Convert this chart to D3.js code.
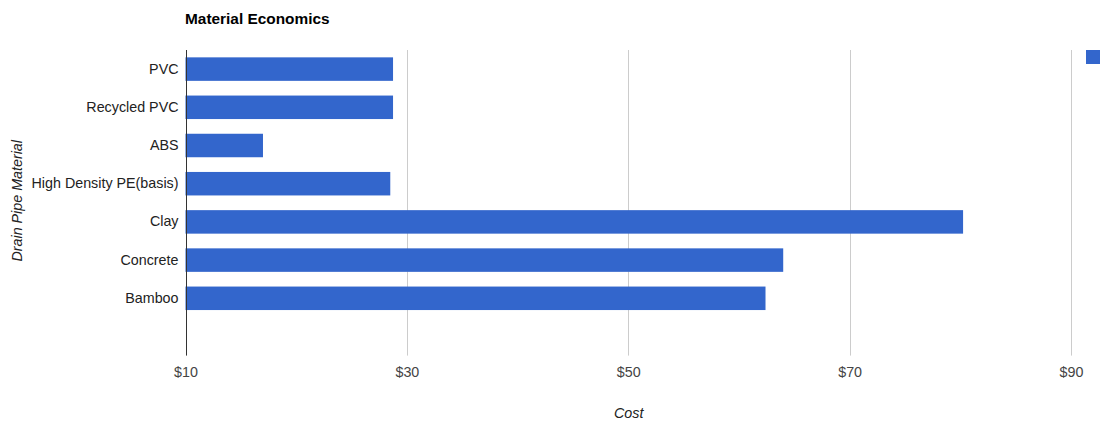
<!DOCTYPE html>
<html>
<head>
<meta charset="utf-8">
<script src="https://cdn.jsdelivr.net/npm/d3@7"></script>
<style>
  html, body { margin: 0; padding: 0; background: #fff; }
  svg { display: block; font-family: "Liberation Sans", Arial, sans-serif; }
</style>
</head>
<body>
<svg id="chart" width="1101" height="421"></svg>
<script>
// Drain pipe materials and their cost
const categories = ["PVC", "Recycled PVC", "ABS", "High Density PE(basis)", "Clay", "Concrete", "Bamboo"];
const costs = [28.75, 28.75, 17, 28.5, 80.25, 64, 62.4];
const xTicks = [10, 30, 50, 70, 90];

const svg = d3.select("#chart");
const plotLeft = 185.5, plotRight = 1071, plotTop = 50, step = 38.2;
const plotBottom = plotTop + step * 8;

const x = d3.scaleLinear().domain([10, 90]).range([plotLeft, plotRight]);
const y = d3.scaleBand()
  .domain(categories)
  .range([plotTop, plotTop + step * categories.length])
  .paddingInner(0.385)
  .paddingOuter(0.1925);

// vertical gridlines
svg.append("g").selectAll("line")
  .data(xTicks.slice(1))
  .join("line")
  .attr("x1", d => Math.round(x(d)) + 0.5)
  .attr("x2", d => Math.round(x(d)) + 0.5)
  .attr("y1", plotTop).attr("y2", plotBottom)
  .attr("stroke", "#cccccc").attr("stroke-width", 1);

// bars
svg.append("g").selectAll("rect")
  .data(categories.map((c, i) => ({ c, v: costs[i] })))
  .join("rect")
  .attr("x", x(10))
  .attr("y", d => y(d.c))
  .attr("width", d => x(d.v) - x(10))
  .attr("height", y.bandwidth())
  .attr("fill", "#3366cc");

// baseline
svg.append("line")
  .attr("x1", Math.round(x(10)) + 0.5).attr("x2", Math.round(x(10)) + 0.5)
  .attr("y1", plotTop).attr("y2", plotBottom)
  .attr("stroke", "#333333").attr("stroke-width", 1);

// x tick labels
const xAxis = d3.axisBottom(x).tickValues(xTicks).tickFormat(d => "$" + d).tickSize(0).tickPadding(0);
const gx = svg.append("g").attr("transform", `translate(0, ${plotBottom + 9})`).call(xAxis);
gx.select(".domain").remove();
gx.selectAll("text")
  .attr("fill", "#444444")
  .attr("font-size", 14.3)
  .attr("font-family", "Liberation Sans, Arial, sans-serif")
  .attr("dy", "0.85em");

// category labels
const yAxis = d3.axisLeft(y).tickSize(0).tickPadding(0);
const gy = svg.append("g").attr("transform", `translate(${plotLeft - 7}, 0)`).call(yAxis);
gy.select(".domain").remove();
gy.selectAll("text")
  .attr("fill", "#222222")
  .attr("font-size", 14.3)
  .attr("font-family", "Liberation Sans, Arial, sans-serif");

// title
svg.append("text")
  .attr("x", 185).attr("y", 24)
  .attr("font-size", 15.4).attr("font-weight", "bold")
  .attr("fill", "#000")
  .text("Material Economics");

// axis titles
svg.append("text")
  .attr("x", (plotLeft + plotRight) / 2 + 0.5).attr("y", 418)
  .attr("text-anchor", "middle")
  .attr("font-size", 14.3).attr("font-style", "italic")
  .attr("fill", "#222222")
  .text("Cost");

svg.append("text")
  .attr("transform", `translate(22, ${(plotTop + plotBottom) / 2 - 2}) rotate(-90)`)
  .attr("text-anchor", "middle")
  .attr("font-size", 14.3).attr("font-style", "italic")
  .attr("fill", "#222222")
  .text("Drain Pipe Material");

// legend swatch
svg.append("rect")
  .attr("x", 1086).attr("y", 50)
  .attr("width", 14).attr("height", 14)
  .attr("fill", "#3366cc");
</script>
</body>
</html>
